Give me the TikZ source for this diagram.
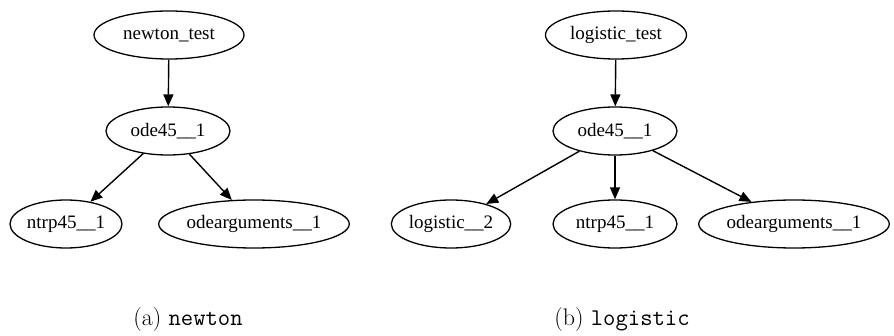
\documentclass[tikz,border=0pt]{standalone}
\usepackage{fontspec}
\newfontfamily\graphfont{Liberation Serif}
\usetikzlibrary{shapes.geometric,arrows.meta}
\tikzset{
  call/.style={draw, ellipse, line width=1.3pt, inner sep=0pt,
    minimum height=48pt, font=\graphfont\fontsize{19}{21}\selectfont},
  edge/.style={line width=1.4pt, -{Triangle[length=12pt,width=10pt]}},
  caption/.style={font=\fontsize{24}{26}\selectfont, anchor=base}
}
\begin{document}
\begin{tikzpicture}[x=1pt, y=-1pt]
  \useasboundingbox (0,0) rectangle (894,336);

  % call graph of newton_test
  \node[call, minimum width=150pt] (nt)  at (169,35)  {newton\_test};
  \node[call, minimum width=124pt] (no)  at (168,131) {ode45\_\_1};
  \node[call, minimum width=112pt] (nn)  at (66,224)  {ntrp45\_\_1};
  \node[call, minimum width=188pt] (na)  at (254,224) {odearguments\_\_1};
  \draw[edge] (nt) -- (no);
  \draw[edge] (no) -- (nn);
  \draw[edge] (no) -- (na);

  % call graph of logistic_test
  \node[call, minimum width=141pt] (lt)  at (616,35)  {logistic\_test};
  \node[call, minimum width=124pt] (lo)  at (615,131) {ode45\_\_1};
  \node[call, minimum width=114pt] (ll)  at (451,224) {logistic\_\_2};
  \node[call, minimum width=124pt] (ln)  at (615,224) {ntrp45\_\_1};
  \node[call, minimum width=181pt] (la)  at (794,224) {odearguments\_\_1};
  \draw[edge] (lt) -- (lo);
  \draw[edge] (lo) -- (ll);
  \draw[edge] (lo) -- (ln);
  \draw[edge] (lo) -- (la);

  % sub-captions
  \node[caption] (capa) at (188,326) {(a) \texttt{newton}};
  \node[caption] (capb) at (622,326) {(b) \texttt{logistic}};
\end{tikzpicture}
\end{document}
